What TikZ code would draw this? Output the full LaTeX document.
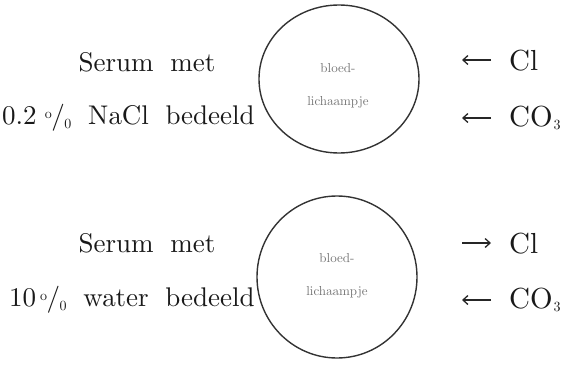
\documentclass[tikz,border=0pt]{standalone}
\usetikzlibrary{arrows.meta}
% book-weight roman at display sizes
\font\labelrm=cmr10 at 27pt
\font\ionrm=cmr10 at 29pt
\font\labelsub=cmr10 at 14pt
\font\pctrm=cmr10 at 14pt
\font\cellrm=cmr10 at 13pt
\tikzset{
  label/.style={font=\labelrm, text=black!90, inner sep=0pt, anchor=center},
  ion/.style={font=\ionrm, text=black!90, inner sep=0pt, anchor=west},
  celltext/.style={font=\cellrm, text=black!55, inner sep=0pt},
  cellring/.style={draw=black!80, line width=1.4pt},
  flow/.style={draw=black!85, line width=1.3pt, -{Straight Barb[length=5pt,width=9pt]}},
}
\newcommand{\pct}{\raisebox{0.5ex}{\pctrm o}\kern-0.5pt/\kern-0.5pt\raisebox{-0.3ex}{\pctrm 0}}
\newcommand{\wsp}{\hspace{0.62em}}
\newcommand{\subthree}{\kern1pt\raisebox{-0.3ex}{\labelsub 3}}
\begin{document}
\begin{tikzpicture}[x=1pt,y=-1pt]
  \useasboundingbox (0,0) rectangle (566,367);

  % upper cell: serum with added NaCl
  \node[label] (s1) at (147,62) {Serum\wsp met};
  \node[label, anchor=east] (n1) at (255,118) {0.2\hspace{0.3em}\pct\wsp NaCl\wsp bedeeld};
  \coordinate (c1) at (339,79);
  \draw[cellring] (c1) ellipse [x radius=80, y radius=74];
  \node[celltext] (b1) at (338,68) {bloed-};
  \node[celltext] (l1) at (338,102) {lichaampje};
  \node[ion] (cl1) at (509,60) {Cl};
  \node[ion] (co1) at (509,118) {CO\subthree};
  \coordinate (a1s) at (491,60);
  \coordinate (a1e) at (462,60);
  \coordinate (a2s) at (491,118);
  \coordinate (a2e) at (462,118);
  \draw[flow] (a1s) -- (a1e);
  \draw[flow] (a2s) -- (a2e);

  % lower cell: serum with added water
  \node[label] (s2) at (147,243) {Serum\wsp met};
  \node[label, anchor=east] (n2) at (255,300) {10\hspace{0.15em}\pct\wsp water\wsp bedeeld};
  \coordinate (c2) at (337,277);
  \draw[cellring] (c2) ellipse [x radius=80, y radius=81];
  \node[celltext] (b2) at (337,258) {bloed-};
  \node[celltext] (l2) at (337,292) {lichaampje};
  \node[ion] (cl2) at (509,243) {Cl};
  \node[ion] (co2) at (509,300) {CO\subthree};
  \coordinate (a3s) at (462,243);
  \coordinate (a3e) at (491,243);
  \coordinate (a4s) at (491,300);
  \coordinate (a4e) at (462,300);
  \draw[flow] (a3s) -- (a3e);
  \draw[flow] (a4s) -- (a4e);
\end{tikzpicture}
\end{document}
